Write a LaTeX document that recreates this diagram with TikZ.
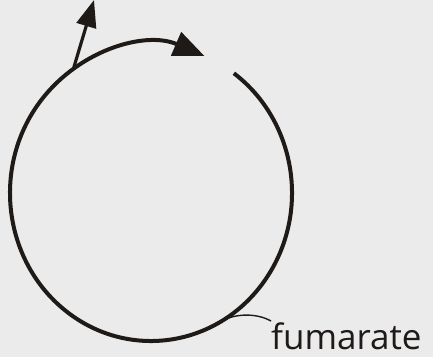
\documentclass[tikz,border=0pt]{standalone}
\usepackage{fontspec}
\setmainfont{Open Sans}
\usetikzlibrary{arrows.meta,calc}
\definecolor{cbg}{HTML}{EBEBEB}
\definecolor{cink}{HTML}{1E1A17}

\begin{document}
\begin{tikzpicture}[x=1pt,y=1pt,
    cycle/.style={draw=cink, line width=4pt},
    tip/.style={-{Triangle[length=31pt,width=25pt]}},
    thin/.style={draw=cink, line width=1.4pt}]
  \fill[cbg] (0,0) rectangle (433,357);
  \useasboundingbox (0,0) rectangle (433,357);
  \coordinate (centre) at (151,164);
  \coordinate (gap) at ($(centre)+(54:141 and 148)$);
  \coordinate (branch) at ($(centre)+(123.5:141 and 148)$);
  \coordinate (exit) at ($(centre)+(-60:141 and 148)$);
  \coordinate (out) at (94,357);
  \node[inner sep=0pt, anchor=base west, font=\fontsize{35}{40}\selectfont,
        text=cink] (fum) at (271,8) {fumarate};
  \draw[cycle, tip] (gap) arc[start angle=54, end angle=-292.3,
        x radius=141, y radius=148];
  \draw[cycle, -{Triangle[length=27pt,width=20pt]}, line width=3.2pt] (branch) -- (out);
  \draw[thin] (exit) .. controls +(14,8) and +(-14,8) .. ([yshift=1pt]fum.north west);
\end{tikzpicture}
\end{document}
